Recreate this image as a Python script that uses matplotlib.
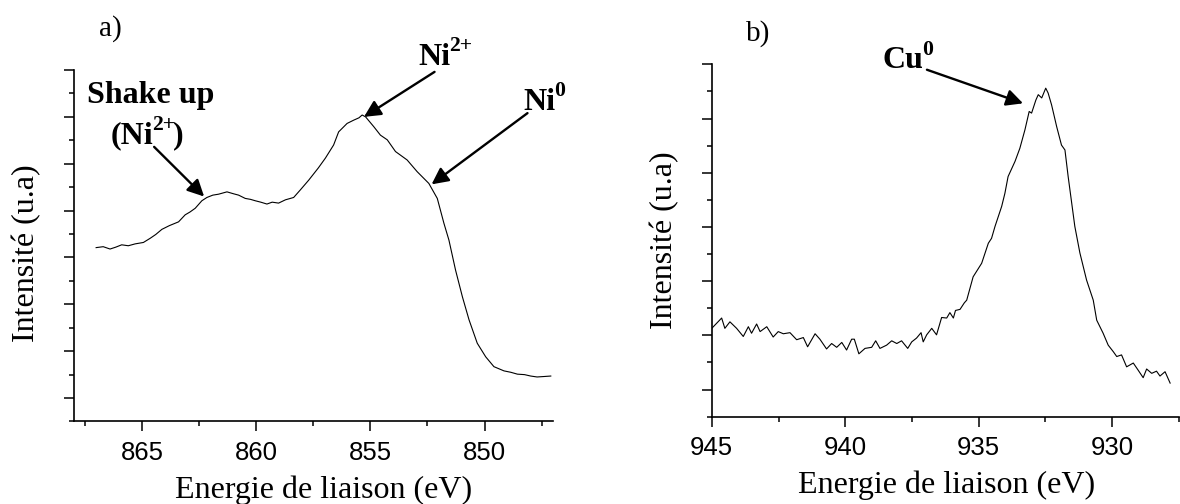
import matplotlib
matplotlib.use('Agg')
import matplotlib.pyplot as plt
from matplotlib.ticker import MultipleLocator

plt.rcParams['font.family'] = ['Liberation Serif', 'DejaVu Serif']

# Ni 2p spectrum (binding energy in eV, intensity in arbitrary units)
ni_energy = [867.01, 866.70, 866.40, 866.15, 865.89, 865.60, 865.30, 864.94, 864.64,
             864.40, 864.13, 863.80, 863.40, 863.11, 862.90, 862.67, 862.38, 862.16,
             861.90, 861.65, 861.28, 861.00, 860.77, 860.48, 860.25, 860.04, 859.80,
             859.53, 859.30, 859.02, 858.72, 858.36, 858.07, 857.70, 857.28, 856.97,
             856.61, 856.39, 856.02, 855.73, 855.50, 855.36, 855.21, 854.85, 854.56,
             854.26, 853.90, 853.39, 852.95, 852.44, 852.07, 851.78, 851.56, 851.27,
             850.97, 850.68, 850.32, 849.95, 849.59, 849.15, 848.85, 848.56, 848.25,
             847.98, 847.70, 847.39, 847.10]
ni_intensity = [3.71, 3.73, 3.68, 3.72, 3.77, 3.75, 3.79, 3.82, 3.91,
                3.99, 4.10, 4.18, 4.26, 4.41, 4.47, 4.55, 4.71, 4.78,
                4.83, 4.85, 4.90, 4.86, 4.83, 4.76, 4.74, 4.71, 4.68,
                4.64, 4.68, 4.66, 4.73, 4.78, 4.94, 5.15, 5.41, 5.62,
                5.90, 6.18, 6.36, 6.43, 6.48, 6.54, 6.50, 6.29, 6.11,
                6.01, 5.76, 5.58, 5.33, 5.08, 4.76, 4.23, 3.87, 3.23,
                2.66, 2.17, 1.67, 1.38, 1.17, 1.08, 1.05, 1.01, 1.00,
                0.97, 0.95, 0.96, 0.97]

# Cu 2p3/2 spectrum
cu_energy = [945.00, 944.63, 944.51, 944.32, 944.07, 943.82, 943.63, 943.51, 943.32,
             943.19, 942.94, 942.70, 942.51, 942.32, 942.07, 941.82, 941.57, 941.41,
             941.13, 940.95, 940.70, 940.51, 940.32, 940.13, 939.95, 939.76, 939.66,
             939.49, 939.26, 939.01, 938.86, 938.70, 938.45, 938.26, 938.07, 937.89,
             937.66, 937.51, 937.33, 937.16, 937.08, 936.95, 936.76, 936.58, 936.39,
             936.20, 936.08, 935.95, 935.87, 935.70, 935.54, 935.45, 935.21, 934.89,
             934.64, 934.52, 934.39, 934.14, 934.02, 933.90, 933.64, 933.46, 933.27,
             933.11, 933.02, 932.86, 932.77, 932.64, 932.49, 932.40, 932.27, 932.08,
             931.90, 931.77, 931.65, 931.40, 931.21, 930.96, 930.71, 930.58, 930.34,
             930.15, 929.96, 929.83, 929.65, 929.46, 929.21, 929.03, 928.84, 928.71,
             928.52, 928.34, 928.21, 928.02, 927.83]
cu_intensity = [1.63, 1.82, 1.63, 1.75, 1.63, 1.48, 1.66, 1.54, 1.71,
                1.57, 1.66, 1.47, 1.57, 1.53, 1.55, 1.42, 1.46, 1.29,
                1.53, 1.43, 1.25, 1.35, 1.28, 1.37, 1.23, 1.43, 1.43,
                1.16, 1.26, 1.28, 1.40, 1.26, 1.32, 1.40, 1.35, 1.40,
                1.26, 1.38, 1.45, 1.55, 1.38, 1.51, 1.63, 1.51, 1.83,
                1.82, 1.92, 1.82, 1.96, 1.98, 2.10, 2.15, 2.58, 2.83,
                3.20, 3.29, 3.51, 3.88, 4.12, 4.43, 4.71, 4.95, 5.29,
                5.63, 5.60, 5.84, 5.94, 5.88, 6.06, 5.97, 5.75, 5.35,
                5.01, 4.92, 4.43, 3.51, 3.02, 2.52, 2.15, 1.78, 1.54,
                1.32, 1.20, 1.11, 1.14, 0.92, 0.99, 0.86, 0.72, 0.88,
                0.80, 0.84, 0.75, 0.83, 0.62]

xlabel = 'Energie de liaison (eV)'
ylabel = 'Intensité (u.a)'
LABEL_SIZE = 23
arrow = dict(arrowstyle='-|>,head_length=1.0,head_width=0.5', color='black',
             lw=1.7, shrinkA=0, shrinkB=0)


def style_axes(ax, xlim, ylim, ticks_at):
    ax.set_xlim(*xlim)
    ax.set_ylim(*ylim)
    for side in ('top', 'right'):
        ax.spines[side].set_visible(False)
    for side in ('left', 'bottom'):
        ax.spines[side].set_linewidth(1.2)
    ax.xaxis.set_major_locator(MultipleLocator(5))
    ax.xaxis.set_minor_locator(MultipleLocator(2.5))
    ax.set_yticks(ticks_at)
    ax.yaxis.set_minor_locator(MultipleLocator(1))
    ax.set_yticklabels([])
    ax.tick_params(which='major', direction='out', length=7, width=1.1,
                   labelsize=18.5, pad=7)
    ax.tick_params(which='minor', direction='out', length=3.5, width=1.1)
    for lab in ax.get_xticklabels():
        lab.set_family(['Liberation Sans', 'DejaVu Sans'])
    ax.set_xlabel(xlabel, fontsize=LABEL_SIZE)
    ax.xaxis.label.set_va('baseline')
    ax.set_ylabel(ylabel, fontsize=LABEL_SIZE)


def rich_label(ax, x, y, parts, center=False, size=23):
    """Bold label made of (text, is_superscript) pieces, set side by side."""
    r = fig.canvas.get_renderer()
    pieces = []
    for txt, sup in parts:
        a = ax.annotate(txt, (x, y), xytext=(0, 0), textcoords='offset points',
                        ha='left', va='baseline', fontweight='bold',
                        fontsize=size * 0.68 if sup else size,
                        annotation_clip=False)
        w = a.get_window_extent(r).width * 72 / fig.dpi
        pieces.append((a, sup, w))
    total = sum(p[2] for p in pieces)
    cur = -total / 2 if center else 0
    for a, sup, w in pieces:
        a.xyann = (cur, size * 0.42 if sup else 0)
        cur += w - 1.2


fig = plt.figure(figsize=(11.8, 5.04), dpi=100)

# a) Ni 2p
ax1 = fig.add_axes([0.0623, 0.1637, 0.4064, 0.6974])
ax1.plot(ni_energy, ni_intensity, color='black', lw=0.8)
style_axes(ax1, (868, 847), (0, 7.5), [0.5, 1.5, 2.5, 3.5, 4.5, 5.5, 6.5, 7.5])
ax1.xaxis.set_label_coords(0.522, -0.218)
ax1.yaxis.set_label_coords(-0.068, 0.48)

ax1.annotate('', xy=(855.28, 6.50), xytext=(852.19, 7.46), arrowprops=arrow,
             annotation_clip=False)
rich_label(ax1, 852.89, 7.61, [('Ni', False), ('2+', True)])
ax1.annotate('', xy=(852.32, 5.06), xytext=(848.12, 6.58), arrowprops=arrow,
             annotation_clip=False)
rich_label(ax1, 847.35, 6.65, [('Ni', False), ('0', True)], center=True)
ax1.annotate('', xy=(862.28, 4.80), xytext=(864.47, 5.86), arrowprops=arrow,
             annotation_clip=False)
rich_label(ax1, 864.64, 6.79, [('Shake up', False)], center=True)
rich_label(ax1, 864.69, 5.93, [('(Ni', False), ('2+', True), (')', False)],
           center=True)

# b) Cu 2p
ax2 = fig.add_axes([0.6032, 0.1732, 0.3959, 0.6992])
ax2.plot(cu_energy, cu_intensity, color='black', lw=0.8)
style_axes(ax2, (945, 927.5), (0, 6.5), [0.5, 1.5, 2.5, 3.5, 4.5, 5.5, 6.5])
ax2.xaxis.set_label_coords(0.503, -0.217)
ax2.yaxis.set_label_coords(-0.069, 0.5)

ax2.annotate('', xy=(933.34, 5.78), xytext=(936.94, 6.40), arrowprops=arrow,
             annotation_clip=False)
rich_label(ax2, 938.60, 6.43, [('Cu', False), ('0', True)])

fig.text(0.0839, 0.93, 'a)', fontsize=21, ha='left', va='baseline')
fig.text(0.632, 0.92, 'b)', fontsize=21, ha='left', va='baseline')

fig.savefig('out.png', dpi=100)
